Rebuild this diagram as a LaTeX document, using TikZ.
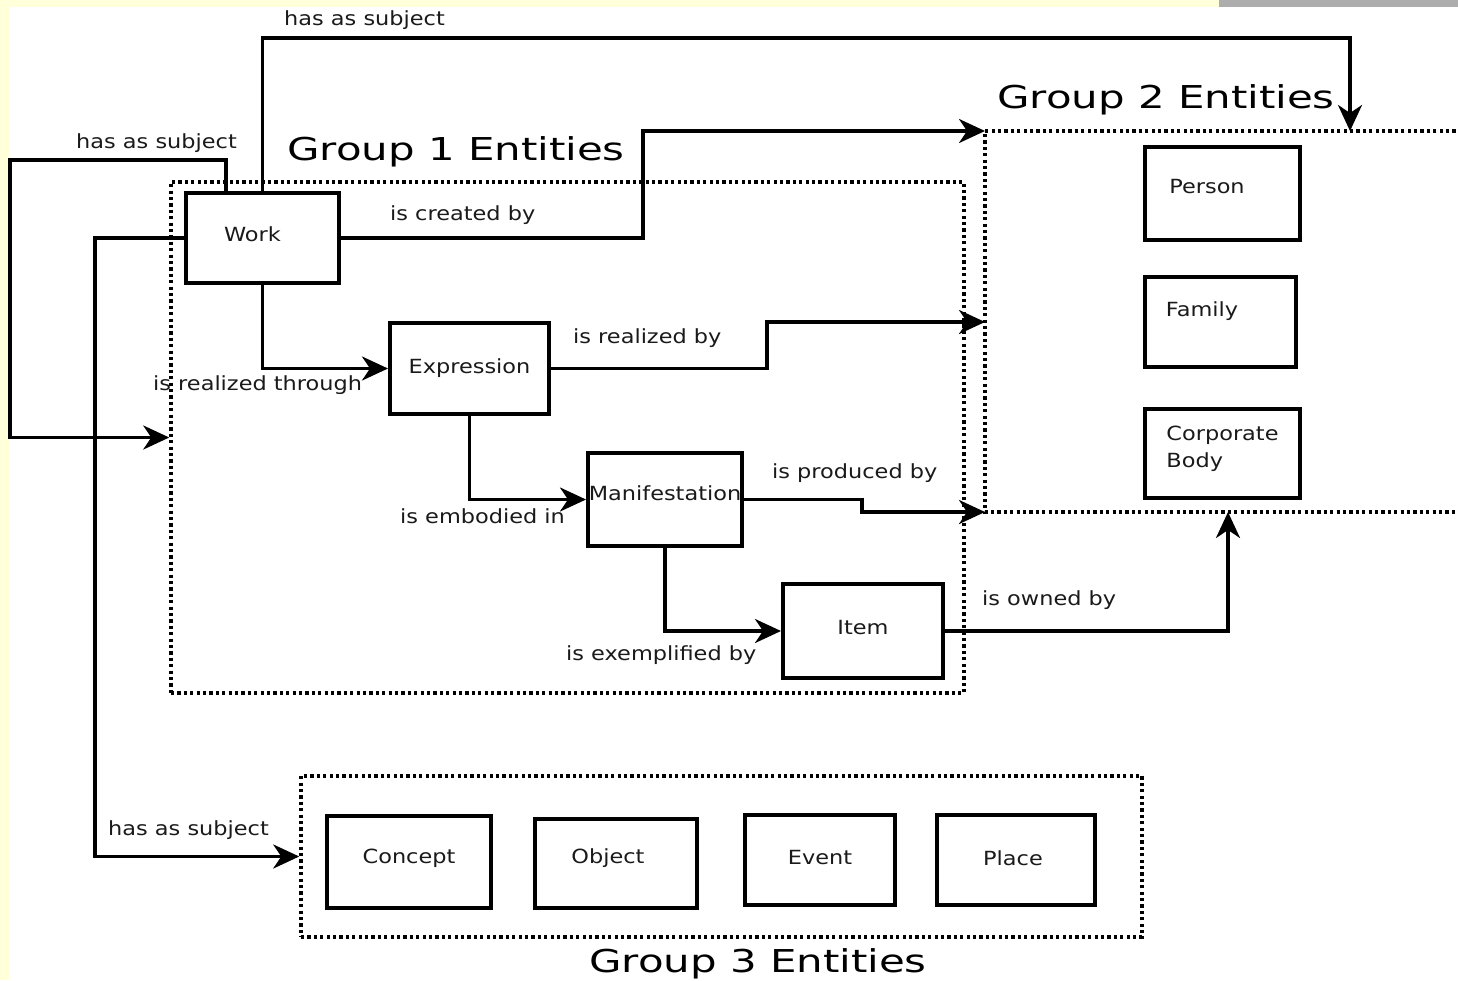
\documentclass[tikz,border=0pt]{standalone}
\usepackage{fontspec}
\setmainfont{DejaVu Sans}
\newfontfamily\lblfont[FakeStretch=1.15]{DejaVu Sans}
\newfontfamily\ttlfont[FakeStretch=1.33]{DejaVu Sans}
\usetikzlibrary{arrows.meta}
\definecolor{bgyellow}{HTML}{FFFFDA}
\definecolor{bargray}{HTML}{ADADAD}
\definecolor{ink}{HTML}{1A1A1A}
\newcommand\liftby[2]{\raisebox{#1}[\height][\depth]{#2}}
\begin{document}
\begin{tikzpicture}[x=1pt,y=-1pt,
  lbl/.style={font=\lblfont\fontsize{19.5}{23}\selectfont, text=ink, inner sep=0pt, anchor=base west},
  ttl/.style={font=\ttlfont\fontsize{31.5}{36}\selectfont, text=black, inner sep=0pt, anchor=base west},
  box/.style={draw, line width=4pt, inner sep=0pt, font=\lblfont\fontsize{19.5}{27}\selectfont, text=ink},
  grp/.style={draw, line width=3.5pt, dash pattern=on 3.2pt off 3.2pt, inner sep=0pt},
  conn/.style={line width=3.3pt},
  arr/.style={conn, -{Stealth[length=26pt, width=24pt, inset=8pt]}},
]
% background
\fill[bgyellow] (0,0) rectangle (1458,980);
\fill[white] (9,7) rectangle (1458,980);
\fill[bargray] (1219,0) rectangle (1458,7);
\useasboundingbox (0,0) rectangle (1458,980);

% groups
\node[grp, minimum width=793pt, minimum height=511pt] (g1) at (567.5,437.5) {};
\node[grp, minimum width=841pt, minimum height=161pt] (g3) at (721.5,856.5) {};
\coordinate (g2tl) at (985,131);
\coordinate (g2bl) at (985,512);
\draw[grp] (1462,131) -- (g2tl) -- (g2bl) -- (1462,512);

% titles
\node[ttl] (t1) at (287,160) {Group 1 Entities};
\node[ttl] (t2) at (997,108) {Group 2 Entities};
\node[ttl] (t3) at (589,972) {Group 3 Entities};

% group 1 entities
\node[box, minimum width=153pt, minimum height=90pt] (work) at (262.5,238) {\liftby{4pt}{Work}\kern20pt};
\node[box, minimum width=159pt, minimum height=91pt] (expr) at (469.5,368.5) {Expression};
\node[box, minimum width=154pt, minimum height=93pt] (man) at (665,499.5) {\liftby{6pt}{Manifestation}};
\node[box, minimum width=160pt, minimum height=94pt] (item) at (863,631) {\liftby{3pt}{Item}};

% group 2 entities
\node[box, minimum width=155pt, minimum height=93pt] (person) at (1222.5,193.5) {\liftby{6.5pt}{Person}\kern31pt};
\node[box, minimum width=151pt, minimum height=90pt] (family) at (1220.5,321.5) {\liftby{10pt}{Family}\kern37pt};
\node[box, minimum width=155pt, minimum height=89pt, align=left] (corp) at (1222.5,453.5) {\liftby{4.5pt}{Corporate}\\\liftby{4.5pt}{Body}};

% group 3 entities
\node[box, minimum width=164pt, minimum height=92pt] (concept) at (409,862) {\liftby{4pt}{Concept}};
\node[box, minimum width=162pt, minimum height=89pt] (object) at (616,863.5) {\liftby{5pt}{Object}\kern16pt};
\node[box, minimum width=150pt, minimum height=90pt] (event) at (820,860) {\liftby{2pt}{Event}};
\node[box, minimum width=158pt, minimum height=90pt] (place) at (1016,860) {\liftby{2pt}{Place}\kern6pt};

% connectors
\coordinate (c1) at (1350,38);
\coordinate (g2s) at (1350,131);
\draw[arr] (work.north) |- (c1) -- (g2s);
\coordinate (c2) at (10,160);
\draw[arr] ([xshift=-36.5pt]work.north) |- (c2) |- (g1.west);
\draw[arr] (work.west) -| (95,0 |- g3.west) -- (g3.west);
\draw[arr] (work.east) -| (643,0 |- g2tl) -- (g2tl);
\draw[arr] (work.south) |- (expr.west);
\coordinate (g2m) at (985,322);
\draw[arr] (expr.east) -| (767,0 |- g2m) -- (g2m);
\draw[arr] (expr.south) |- (man.west);
\draw[arr] (man.east) -| (862,0 |- g2bl) -- (g2bl);
\draw[arr] (man.south) |- (item.west);
\coordinate (g2b) at (1228,512);
\draw[arr] (item.east) -| (g2b);

% connector labels
\node[lbl] (l1) at (284,25) {has as subject};
\node[lbl] (l2) at (76,148) {has as subject};
\node[lbl] (l3) at (108,835) {has as subject};
\node[lbl] (l4) at (390,220) {is created by};
\node[lbl] (l5) at (153,390) {is realized through};
\node[lbl] (l6) at (573,343) {is realized by};
\node[lbl] (l7) at (400,523) {is embodied in};
\node[lbl] (l8) at (772,478) {is produced by};
\node[lbl] (l9) at (566,660) {is exemplified by};
\node[lbl] (l10) at (982,605) {is owned by};
\end{tikzpicture}
\end{document}
